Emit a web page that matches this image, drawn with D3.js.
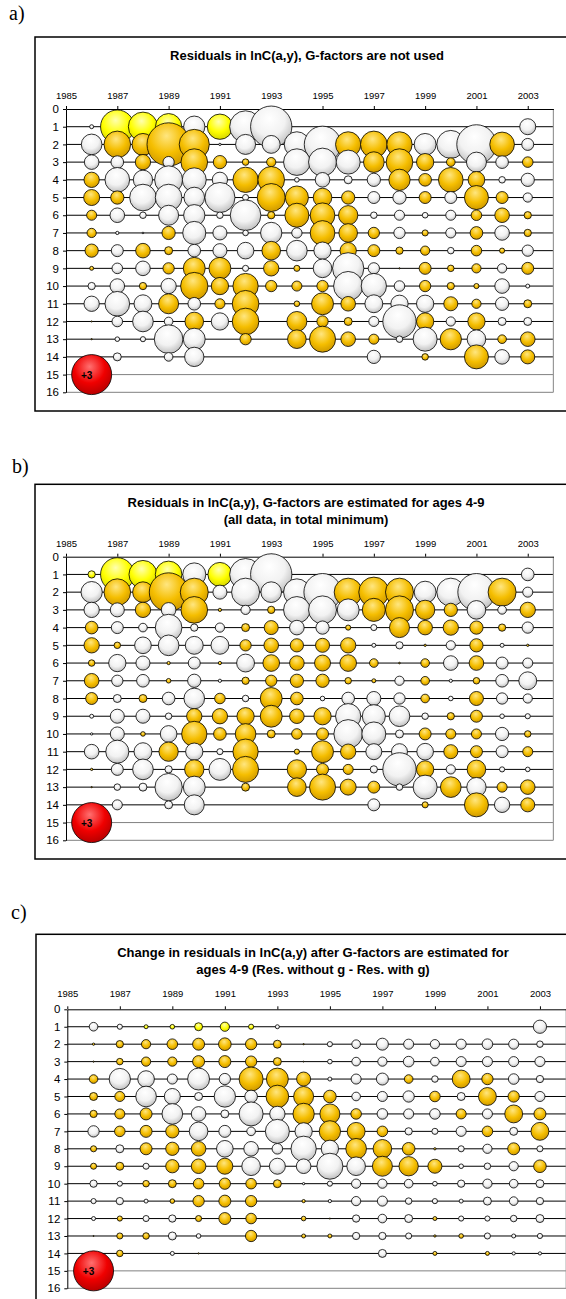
<!DOCTYPE html>
<html>
<head>
<meta charset="utf-8">
<script src="https://cdn.jsdelivr.net/npm/d3@7/dist/d3.min.js"></script>
<style>
  body { margin: 0; background: #fff; }
  svg { display: block; font-family: "Liberation Sans", Arial, sans-serif; }
</style>
</head>
<body>
<svg id="chart" width="566" height="1299"></svg>
<script>
// categories
const years = [1986, 1987, 1988, 1989, 1990, 1991, 1992, 1993, 1994, 1995, 1996, 1997, 1998, 1999, 2000, 2001, 2002, 2003];
const ages = [1, 2, 3, 4, 5, 6, 7, 8, 9, 10, 11, 12, 13, 14];
const yearTicks = [1985, 1987, 1989, 1991, 1993, 1995, 1997, 1999, 2001, 2003];
const ageTicks = [0, 1, 2, 3, 4, 5, 6, 7, 8, 9, 10, 11, 12, 13, 14, 15, 16];

// a) residuals, G-factors not used (rows = ages 1..14, cols = years 1986..2003)
const residualsA = [
  [-0.03, 2.1, 1.6, 1.3, -0.85, 1.2, -1.9, -3.2, null, null, null, null, null, null, null, null, null, -0.48],
  [-0.8, 1.33, 0.9, 3.5, 1.7, -0.01, -0.75, -0.6, -1.2, -2.5, 1.2, 1.33, 1.2, -0.9, -1.47, -2.9, 1.14, -0.27],
  [-0.4, -0.3, 0.44, -0.24, 1.33, 0.33, 0.08, 0.16, -1.33, -1.47, -1.08, 0.8, 1.33, 0.56, 0.14, -0.75, -0.3, 0.21],
  [0.44, -1.14, -0.7, -1.47, -1.08, -0.44, 1.2, 1.33, -0.04, -0.4, -0.12, -0.33, 0.85, 0.3, 1.14, 0.52, -0.08, -0.33],
  [0.48, 0.33, -1.33, -1.33, -0.8, -1.7, -0.07, 1.47, 1.0, 0.65, 0.33, -0.27, -0.33, 0.27, -0.27, 1.08, 0.27, -0.16],
  [0.19, -0.4, -0.08, -0.75, -0.85, -0.08, -1.76, 0.1, 1.08, 1.14, 0.7, -0.08, -0.19, -0.06, -0.19, 0.21, 0.4, 0.1],
  [0.16, -0.02, -0.005, 0.33, -1.0, -0.37, -0.06, -0.85, -0.2, 1.14, 0.65, 0.24, -0.24, 0.07, -0.19, 0.3, -0.4, 0.1],
  [0.33, -0.27, 0.4, 0.12, -0.3, -0.37, -0.52, 0.65, -0.8, -0.56, 0.5, 0.27, 0.1, 0.16, -0.08, 0.21, 0.05, -0.24],
  [0.03, -0.21, -0.4, 0.24, 0.9, 0.9, -0.07, 0.44, 0.07, -0.65, -1.84, -0.24, 0.003, 0.27, 0.08, 0.16, -0.16, 0.27],
  [-0.1, -0.4, 0.1, -0.44, 1.4, 0.56, 1.2, 0.24, 0.19, 0.24, -1.6, -1.2, -0.21, 0.24, 0.1, 0.05, -0.4, -0.03],
  [-0.44, -1.14, -0.6, 0.75, -0.3, 0.19, 1.33, null, 0.06, 0.9, 0.4, -0.6, -0.56, -0.56, 0.37, 0.16, -0.33, 0.12],
  [0.003, -0.21, -0.8, -0.14, 0.65, -0.56, 1.33, null, 0.75, 0.24, 0.12, -0.19, -2.08, 0.56, -0.16, 0.56, -0.12, -0.12],
  [0.003, -0.04, -0.05, -1.54, -0.9, null, 0.24, null, 0.65, 1.27, 0.4, 0.19, -0.08, -1.08, 0.85, -0.65, 0.14, 0.4],
  [null, -0.12, null, -0.14, -0.7, null, null, null, null, null, null, -0.33, null, 0.08, null, 1.08, -0.4, 0.37]
];

// b) residuals, G-factors estimated for ages 4-9
const residualsB = [
  [0.1, 2.1, 1.47, 1.33, -1.0, 1.08, -1.9, -3.2, null, null, null, null, null, null, null, null, null, -0.3],
  [-0.85, 1.33, 0.8, 2.8, 1.47, -0.37, -1.47, -0.8, -1.33, -2.6, 1.47, 1.7, 1.47, -0.9, -1.47, -2.6, 1.47, -0.19],
  [-0.44, -0.37, 0.44, -0.4, 1.33, 0.02, -0.16, 0.1, -1.33, -1.47, -0.9, 1.0, 1.47, 0.7, 0.33, -0.65, -0.14, 0.44],
  [0.3, -0.27, -0.14, -1.33, -0.1, -0.16, 0.12, 0.37, -0.4, -0.33, 0.05, -0.07, 0.75, 0.4, 0.44, 0.33, 0.1, -0.24],
  [0.44, 0.08, -0.52, -0.8, -0.6, -0.6, 0.24, 0.4, 0.33, 0.37, 0.44, -0.03, -0.1, 0.01, -0.16, 0.33, -0.03, 0.01],
  [0.08, -0.56, -0.37, 0.02, -0.27, 0.02, -0.6, 0.52, 0.4, 0.48, 0.52, 0.14, 0.005, 0.14, -0.4, 0.4, -0.27, -0.19],
  [0.4, -0.24, -0.3, 0.04, -0.33, -0.02, 0.1, 0.24, 0.33, 0.33, 0.08, 0.03, -0.16, 0.14, -0.02, 0.08, -0.3, -0.6],
  [0.27, -0.12, 0.12, -0.3, -0.8, 0.21, -0.08, 0.9, 0.3, -0.04, -0.3, -0.37, -0.24, 0.14, -0.04, 0.37, -0.24, -0.16],
  [-0.03, -0.37, -0.37, -0.08, 0.44, 0.44, 0.56, 0.9, 0.4, 0.56, -1.2, -1.0, -0.8, -0.08, 0.1, 0.27, -0.04, -0.05],
  [-0.01, -0.37, 0.04, -0.52, 1.2, 0.3, 0.8, 0.12, 0.21, 0.27, -1.54, -1.08, -0.12, 0.27, 0.19, 0.19, -0.33, 0.08],
  [-0.4, -1.0, -0.6, 0.7, -0.56, -0.07, 1.2, null, 0.05, 0.9, 0.44, -0.48, -0.48, -0.52, 0.37, 0.27, -0.27, 0.19],
  [0.01, -0.27, -0.8, -0.1, 0.7, -0.9, 1.27, null, 0.7, 0.27, 0.19, -0.1, -2.08, 0.56, -0.16, 0.65, -0.05, -0.04],
  [0.003, -0.08, -0.12, -1.4, -0.9, null, 0.12, null, 0.65, 1.27, 0.48, 0.27, -0.08, -1.08, 0.8, -0.7, 0.19, 0.4],
  [null, -0.19, null, -0.12, -0.75, null, null, null, null, null, null, -0.27, null, 0.07, null, 1.08, -0.44, 0.37]
];

// c) change in residuals (without g - with g)
const changeC = [
  [-0.14, -0.05, 0.03, 0.04, 0.12, 0.16, 0.05, -0.03, null, null, null, null, null, null, null, null, null, -0.33],
  [0.01, 0.1, 0.16, 0.21, 0.27, 0.3, 0.24, 0.12, 0.003, -0.05, -0.14, -0.27, -0.19, -0.16, -0.19, -0.21, -0.19, -0.08],
  [0.003, 0.08, 0.16, 0.16, 0.27, 0.27, 0.24, 0.12, 0.002, -0.04, -0.14, -0.16, -0.21, -0.14, -0.19, -0.19, -0.19, -0.19],
  [0.14, -0.85, -0.52, -0.19, -0.9, -0.24, 1.08, 0.9, 0.37, -0.03, -0.19, -0.27, 0.14, -0.08, 0.6, 0.24, -0.21, -0.1],
  [0.12, 0.19, -0.8, -0.48, -0.12, -0.85, -0.3, 0.96, 0.75, 0.3, -0.14, -0.19, -0.24, 0.21, -0.12, 0.6, 0.24, -0.19],
  [0.1, 0.19, 0.27, -0.8, -0.4, -0.12, -1.08, -0.44, 0.85, 0.75, 0.21, -0.21, -0.19, -0.21, 0.19, -0.19, 0.6, 0.27],
  [-0.24, 0.21, 0.27, 0.33, -0.65, -0.27, -0.14, -1.08, -0.56, 0.85, 0.6, 0.21, -0.1, -0.07, -0.19, 0.21, -0.12, 0.6],
  [0.07, -0.12, 0.27, 0.33, 0.4, -0.52, -0.4, -0.21, -1.2, -0.56, 0.8, 0.65, 0.3, 0.01, -0.07, -0.16, 0.27, -0.07],
  [0.07, 0.12, -0.07, 0.33, 0.4, 0.48, -0.65, -0.48, -0.4, -1.27, -0.65, 0.75, 0.7, 0.37, -0.04, -0.08, -0.16, 0.3],
  [-0.1, -0.05, 0.08, 0.12, 0.21, 0.24, 0.21, 0.12, -0.01, -0.05, -0.16, -0.16, -0.14, -0.04, -0.1, -0.16, -0.14, -0.12],
  [-0.05, -0.1, -0.03, 0.04, 0.24, 0.27, 0.24, null, 0.02, -0.02, -0.16, -0.19, -0.08, -0.05, -0.03, -0.12, -0.14, -0.1],
  [-0.03, 0.05, -0.07, -0.1, 0.07, 0.27, 0.21, null, 0.04, 0.003, -0.1, -0.14, -0.12, 0.03, -0.05, -0.05, -0.08, -0.12],
  [0.002, 0.07, 0.08, -0.12, -0.04, null, 0.24, null, 0.03, 0.03, -0.1, -0.1, -0.07, 0.01, 0.04, -0.07, -0.03, -0.05],
  [null, 0.08, null, -0.03, 0.003, null, null, null, null, null, null, -0.12, null, 0.03, null, 0.03, -0.02, -0.02]
];

// size legend bubble
const legendYear = 1986;
const legendAge = 15;
const legendValue = 3;
const legendLabel = "+3";

const svg = d3.select("#chart");

// 3D-looking bubble fills
const defs = svg.append("defs");
const fills = {
  gold:   ["#FFE680", "#F5BE00", "#C99400"],
  white:  ["#FFFFFF", "#F2F2F2", "#B8B8B8"],
  yellow: ["#FFFFB0", "#FFFF00", "#D0D000"],
  red:    ["#FF7070", "#F00000", "#B00000"]
};
Object.entries(fills).forEach(([name, c]) => {
  const g = defs.append("radialGradient").attr("id", "g-" + name)
    .attr("cx", "45%").attr("cy", "35%").attr("r", "70%").attr("fx", "45%").attr("fy", "30%");
  g.append("stop").attr("offset", "0%").attr("stop-color", c[0]);
  g.append("stop").attr("offset", "55%").attr("stop-color", c[1]);
  g.append("stop").attr("offset", "100%").attr("stop-color", c[2]);
});

const r = d3.scaleSqrt().domain([0, 3]).range([0, 20]);

const panels = [
  { label: "a)", labelPos: [9, 20], frame: [35, 37, 411], plot: [66, 109, 553.4, 392.3],
    title: ["Residuals in lnC(a,y), G-factors are not used"], titleX: 307, titleY: 60, pad: 7, data: residualsA },
  { label: "b)", labelPos: [12, 473], frame: [35, 484.3, 859], plot: [66, 556.7, 553.4, 840.3],
    title: ["Residuals in lnC(a,y), G-factors are estimated for ages 4-9", "(all data, in total minimum)"],
    titleX: 306, titleY: 507, pad: 7, data: residualsB },
  { label: "c)", labelPos: [11, 919], frame: [36, 934.3, 1320], plot: [67.3, 1009.3, 566.2, 1288.3],
    title: ["Change in residuals in lnC(a,y) after G-factors are estimated for", "ages 4-9 (Res. without g - Res. with g)"],
    titleX: 313, titleY: 957, pad: 9, data: changeC }
];

panels.forEach(p => {
  const [left, top, right, bottom] = p.plot;
  const x = d3.scaleLinear().domain([1985, 2004]).range([left, right]);
  const y = d3.scaleLinear().domain([0, 16]).range([top, bottom]);

  svg.append("text")
    .attr("x", p.labelPos[0]).attr("y", p.labelPos[1])
    .attr("font-family", "'Liberation Serif', 'Times New Roman', serif")
    .attr("font-size", 20)
    .text(p.label);

  svg.append("rect")
    .attr("x", p.frame[0]).attr("y", p.frame[1])
    .attr("width", 600).attr("height", p.frame[2] - p.frame[1])
    .attr("fill", "#fff").attr("stroke", "#000").attr("stroke-width", 1.5);

  svg.append("text")
    .attr("x", p.titleX).attr("y", p.titleY)
    .attr("text-anchor", "middle").attr("font-size", 13).attr("font-weight", "bold")
    .selectAll("tspan").data(p.title).enter().append("tspan")
    .attr("x", p.titleX).attr("dy", (d, i) => i ? 16.5 : 0)
    .text(d => d);

  const g = svg.append("g");

  // row lines
  g.selectAll("line.row").data(ageTicks.slice(1)).enter().append("line")
    .attr("x1", left).attr("x2", right)
    .attr("y1", d => y(d)).attr("y2", d => y(d))
    .attr("stroke", d => d >= 15 ? "#808080" : "#000")
    .attr("stroke-width", 1);

  // right border of plot area
  g.append("line")
    .attr("x1", right).attr("x2", right).attr("y1", top).attr("y2", bottom)
    .attr("stroke", "#999").attr("stroke-width", 1.2);

  // axes
  const xAxis = g.append("g").attr("transform", `translate(0,${top})`)
    .call(d3.axisTop(x).tickValues(yearTicks).tickFormat(d3.format("d"))
      .tickSize(3).tickSizeOuter(0).tickPadding(p.pad));
  xAxis.selectAll("text").attr("font-size", 9.5).attr("fill", "#000");

  const yAxis = g.append("g").attr("transform", `translate(${left},0)`)
    .call(d3.axisLeft(y).tickValues(ageTicks).tickSize(3).tickSizeOuter(0).tickPadding(4));
  yAxis.selectAll("text").attr("font-size", 11.5).attr("fill", "#000");
  [xAxis, yAxis].forEach(a => a.attr("font-family", null));

  // bubbles, drawn age by age so later rows sit on top
  const points = [];
  ages.forEach((age, i) => {
    years.forEach((yr, j) => {
      const v = p.data[i][j];
      if (v === null) return;
      points.push({ age, yr, v });
    });
  });

  g.selectAll("circle.bubble").data(points).enter().append("circle")
    .attr("cx", d => x(d.yr)).attr("cy", d => y(d.age))
    .attr("r", d => r(Math.abs(d.v)))
    .attr("fill", d => d.v > 0 ? (d.age === 1 ? "url(#g-yellow)" : "url(#g-gold)") : "url(#g-white)")
    .attr("stroke", "#000").attr("stroke-width", 0.8);

  // legend bubble
  g.append("circle")
    .attr("cx", x(legendYear)).attr("cy", y(legendAge))
    .attr("r", r(legendValue))
    .attr("fill", "url(#g-red)").attr("stroke", "#000").attr("stroke-width", 0.8);
  g.append("text")
    .attr("x", x(legendYear) - 5).attr("y", y(legendAge) + 4)
    .attr("text-anchor", "middle").attr("font-size", 10).attr("font-weight", "bold")
    .text(legendLabel);
});
</script>
</body>
</html>
